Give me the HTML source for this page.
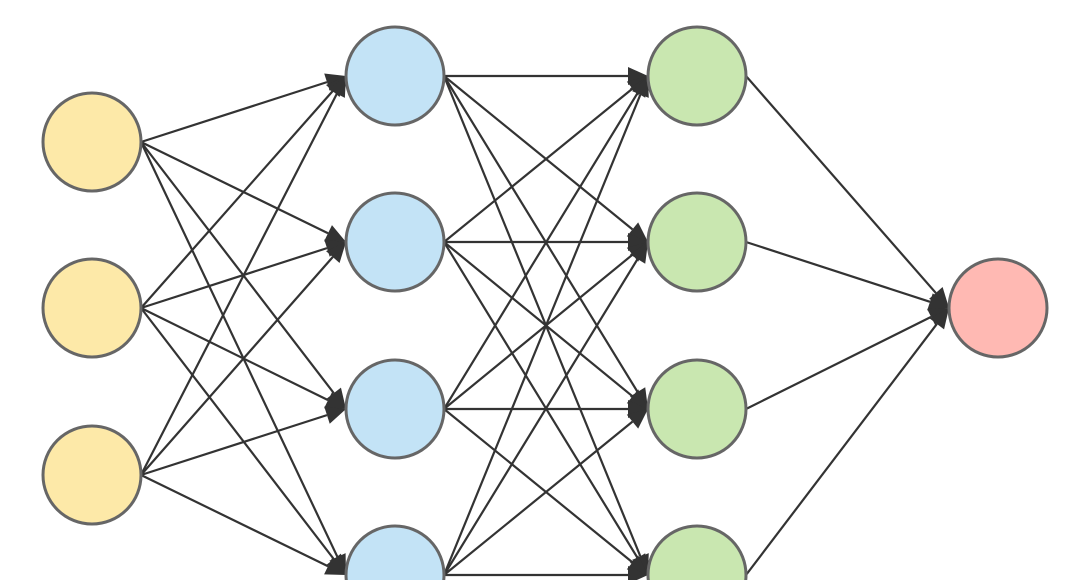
<!DOCTYPE html>
<html><head><meta charset="utf-8"><style>html,body{margin:0;padding:0;background:#fff;width:1068px;height:580px;overflow:hidden}svg{display:block}</style></head>
<body>
<svg id="s" width="1068" height="580" xmlns="http://www.w3.org/2000/svg">
<g id="lines" stroke="#333" stroke-width="2.2" fill="none"></g>
<g id="heads" fill="#333"></g>
<g id="nodes" stroke="#666" stroke-width="3"></g>
</svg>
<script>
var R=49;
var L=[{x:92,ys:[142,308,475],c:"#fde9a8"},{x:395,ys:[76,242,409,575],c:"#c3e3f6"},{x:697,ys:[76,242,409,575],c:"#c9e7b0"},{x:998,ys:[308],c:"#ffb9b3"}];
var ns="http://www.w3.org/2000/svg";
function el(t,a,p){var e=document.createElementNS(ns,t);for(var k in a)e.setAttribute(k,a[k]);document.getElementById(p).appendChild(e);}
for(var i=0;i<3;i++){var A=L[i],B=L[i+1];
A.ys.forEach(function(y1){B.ys.forEach(function(y2){
var x1=A.x+R,x2=B.x-R;var dx=x2-x1,dy=y2-y1,d=Math.sqrt(dx*dx+dy*dy),ux=dx/d,uy=dy/d;
var hl=20,hw=9;var bx=x2-ux*hl,by=y2-uy*hl;
el("line",{x1:x1,y1:y1,x2:bx,y2:by},"lines");
el("polygon",{points:x2+","+y2+" "+(bx-uy*hw)+","+(by+ux*hw)+" "+(bx+uy*hw)+","+(by-ux*hw)},"heads");
});});}
L.forEach(function(l){l.ys.forEach(function(y){el("circle",{cx:l.x,cy:y,r:R,fill:l.c},"nodes");});});
</script>
</body></html>
